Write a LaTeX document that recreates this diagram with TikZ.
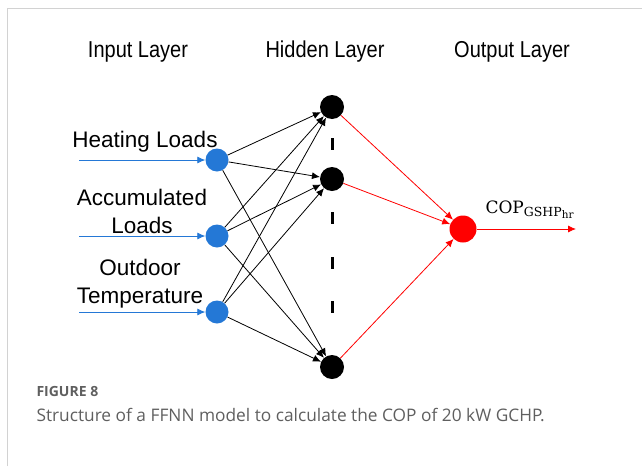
\documentclass[tikz,border=0pt]{standalone}
\usepackage{fontspec}
\setmainfont{Liberation Sans}
\newfontfamily\capfont{Open Sans}
\newfontfamily\copfont{DejaVu Serif}
\usetikzlibrary{arrows.meta}
\definecolor{inblue}{RGB}{36,120,214}
\definecolor{capgray}{RGB}{95,95,95}
\definecolor{framegray}{RGB}{210,210,210}
\newcommand{\tallword}[1]{\scalebox{1}[1.15]{#1}}
\tikzset{
  innode/.style={circle,fill=inblue,minimum size=23pt,inner sep=0pt},
  hidnode/.style={circle,fill=black,minimum size=24pt,inner sep=0pt},
  outnode/.style={circle,fill=red,minimum size=27pt,inner sep=0pt},
  layertitle/.style={font=\fontsize{20}{24}\selectfont},
  inlabel/.style={font=\fontsize{22.5}{28}\selectfont,align=center},
  link/.style={-{Latex[length=8pt,width=7pt]},line width=0.8pt},
}
\begin{document}
\begin{tikzpicture}[x=1pt,y=-1pt]
  \useasboundingbox (0,0) rectangle (642,466);
  \draw[framegray,line width=1pt] (7,466) -- (7,8) -- (642,8);

  % layer titles
  \node[layertitle] (TI) at (138,52) {\tallword{Input Layer}};
  \node[layertitle] (TH) at (325,52) {\tallword{Hidden Layer}};
  \node[layertitle] (TO) at (512,52) {\tallword{Output Layer}};

  % neurons
  \node[innode] (I1) at (217,160) {};
  \node[innode] (I2) at (217,236) {};
  \node[innode] (I3) at (217,312) {};
  \node[hidnode] (H1) at (332,107) {};
  \node[hidnode] (H2) at (332,179) {};
  \node[hidnode] (H3) at (332,367) {};
  \node[outnode] (O) at (463,229) {};

  % inputs
  \coordinate (S1) at (79,160);
  \coordinate (S2) at (79,236);
  \coordinate (S3) at (79,312);
  \node[inlabel] (L1) at (145,142) {Heating Loads};
  \node[inlabel] (L2) at (142,211) {Accumulated\\Loads};
  \node[inlabel] (L3) at (140,284) {Outdoor\\Temperature};
  \draw[link,inblue] (S1) -- (I1);
  \draw[link,inblue] (S2) -- (I2);
  \draw[link,inblue] (S3) -- (I3);

  % input -> hidden
  \foreach \i in {1,2,3}
    \foreach \h in {1,2,3}
      \draw[link] (I\i) -- (H\h);

  % hidden -> output
  \draw[link,red] (H1) -- (O);
  \draw[link,red] (H2) -- (O);
  \draw[link,red] (H3) -- (O);
  \coordinate (E) at (576,229);
  \draw[link,red] (O) -- (E);
  \node[anchor=base west,font=\copfont] (COP) at (482,213)
    {\fontsize{17}{20}\selectfont COP\raisebox{-3pt}{\fontsize{12.5}{14}\selectfont GSHP\raisebox{-2.5pt}{\fontsize{10.5}{12}\selectfont hr}}};

  % dots between hidden neurons
  \foreach \y in {144,218,263,307}
    \draw[line width=3pt] (332,\y-6) -- (332,\y+6);

  % caption
  \node[anchor=west,font=\capfont\bfseries\fontsize{14}{16}\selectfont,text=capgray]
    (F) at (33,391) {FIGURE 8};
  \node[anchor=west,font=\capfont\fontsize{17.3}{20}\selectfont,text=capgray]
    (C) at (33,415) {Structure of a FFNN model to calculate the COP of 20 kW GCHP.};
\end{tikzpicture}
\end{document}
